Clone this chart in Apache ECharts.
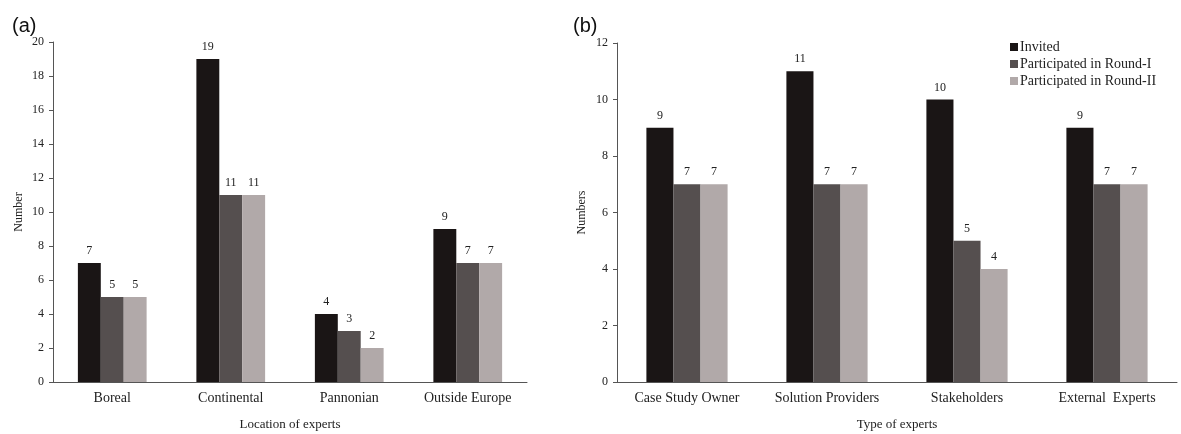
<!DOCTYPE html>
<html><head><meta charset="utf-8">
<script src="https://cdn.jsdelivr.net/npm/echarts@6/dist/echarts.min.js"></script>
<style>html,body{margin:0;padding:0;background:#fff}#c{width:1181px;height:434px}</style>
</head><body><div id="c"></div>
<script>
const seriesNames = ['Invited', 'Participated in Round-I', 'Participated in Round-II'];
const locCategories = ['Boreal', 'Continental', 'Pannonian', 'Outside Europe'];
const locInvited = [7, 19, 4, 9];
const locRound1 = [5, 11, 3, 7];
const locRound2 = [5, 11, 2, 7];
const typeCategories = ['Case Study Owner', 'Solution Providers', 'Stakeholders', 'External  Experts'];
const typeInvited = [9, 11, 10, 9];
const typeRound1 = [7, 7, 5, 7];
const typeRound2 = [7, 7, 4, 7];
const locTicks = [0, 2, 4, 6, 8, 10, 12, 14, 16, 18, 20];
const typeTicks = [0, 2, 4, 6, 8, 10, 12];

const colors = ['#1a1515', '#554f4f', '#b1a9a9'];
const serif = '"Liberation Serif", "DejaVu Serif", serif';
const txt = '#222';

function xAx(idx, cats, name) {
  return {
    type: 'category', gridIndex: idx, data: cats,
    axisLine: {lineStyle: {color: '#555', width: 1}},
    axisTick: {show: false},
    axisLabel: {fontFamily: serif, fontSize: 14, color: txt, margin: 9},
    name: name, nameLocation: 'middle', nameGap: 36,
    nameTextStyle: {fontFamily: serif, fontSize: 13, color: txt}
  };
}
function yAx(idx, ticks, name, gap) {
  return {
    type: 'value', gridIndex: idx, min: ticks[0], max: ticks[ticks.length - 1],
    interval: ticks[1] - ticks[0],
    axisLine: {show: true, lineStyle: {color: '#555', width: 1}},
    axisTick: {show: true, length: 4, lineStyle: {color: '#555'}},
    splitLine: {show: false},
    axisLabel: {fontFamily: serif, fontSize: 12, color: txt, margin: 9},
    name: name, nameLocation: 'middle', nameGap: gap, nameRotate: 90,
    nameTextStyle: {fontFamily: serif, fontSize: 12, color: txt}
  };
}
function bar(name, data, i, xi, gap) {
  return {
    name: name, type: 'bar', xAxisIndex: xi, yAxisIndex: xi, data: data,
    barGap: '0%', barCategoryGap: gap,
    itemStyle: {color: colors[i]},
    label: {show: true, position: 'top', distance: 6, fontFamily: serif, fontSize: 12, color: txt},
    emphasis: {disabled: true}
  };
}

const chart = echarts.init(document.getElementById('c'));
chart.setOption({
  animation: false,
  title: [
    {text: '(a)', left: 7, top: 11, textStyle: {fontFamily: 'Liberation Sans, Arial, sans-serif', fontSize: 20, fontWeight: 'normal', color: '#111'}},
    {text: '(b)', left: 568, top: 11, textStyle: {fontFamily: 'Liberation Sans, Arial, sans-serif', fontSize: 20, fontWeight: 'normal', color: '#111'}}
  ],
  legend: {
    data: seriesNames, orient: 'vertical', left: 1005, top: 35,
    itemWidth: 8, itemHeight: 8, itemGap: 3, icon: 'rect',
    textStyle: {fontFamily: serif, fontSize: 14, color: txt, padding: [0, 0, 0, -3]}
  },
  grid: [
    {left: 53, right: 654, top: 42, bottom: 52, containLabel: false, outerBoundsMode: 'none'},
    {left: 617, right: 4, top: 43, bottom: 52, containLabel: false, outerBoundsMode: 'none'}
  ],
  xAxis: [xAx(0, locCategories, 'Location of experts'), xAx(1, typeCategories, 'Type of experts')],
  yAxis: [yAx(0, locTicks, 'Number', 28), yAx(1, typeTicks, 'Numbers', 29)],
  series: [
    bar(seriesNames[0], locInvited, 0, 0, '42%'),
    bar(seriesNames[1], locRound1, 1, 0, '42%'),
    bar(seriesNames[2], locRound2, 2, 0, '42%'),
    bar(seriesNames[0], typeInvited, 0, 1, '42%'),
    bar(seriesNames[1], typeRound1, 1, 1, '42%'),
    bar(seriesNames[2], typeRound2, 2, 1, '42%')
  ]
});
</script></body></html>
